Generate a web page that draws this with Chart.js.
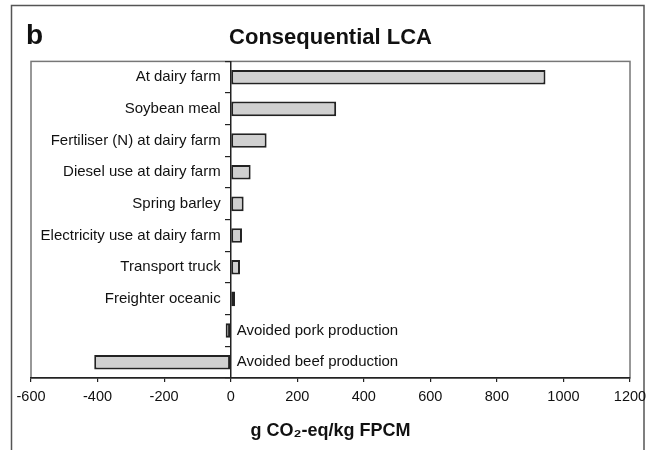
<!DOCTYPE html>
<html>
<head>
<meta charset="utf-8">
<script src="https://cdn.jsdelivr.net/npm/chart.js@4.4.1/dist/chart.umd.min.js"></script>
<style>
  html, body { margin: 0; padding: 0; background: #fff; }
  canvas { display: block; }
</style>
</head>
<body>
<canvas id="lcaChart" width="649" height="450"></canvas>
<script>
const categories = [
  "At dairy farm",
  "Soybean meal",
  "Fertiliser (N) at dairy farm",
  "Diesel use at dairy farm",
  "Spring barley",
  "Electricity use at dairy farm",
  "Transport truck",
  "Freighter oceanic",
  "Avoided pork production",
  "Avoided beef production"
];
const emissions = [946, 317, 108, 60, 39, 34, 28, 13, -15, -410];
const xTicks = [-600, -400, -200, 0, 200, 400, 600, 800, 1000, 1200];

const FONT = "'Liberation Sans', Arial, sans-serif";

// frame, plot box, panel letter and the category names beside the zero line
const decorations = {
  id: "decorations",
  beforeDraw(chart) {
    const { ctx, chartArea: a } = chart;
    ctx.save();
    ctx.fillStyle = "#fff";
    ctx.fillRect(0, 0, chart.width, chart.height);
    ctx.strokeStyle = "#555";
    ctx.lineWidth = 1.5;
    ctx.beginPath();
    ctx.moveTo(11.5, 460);
    ctx.lineTo(11.5, 5.5);
    ctx.lineTo(644, 5.5);
    ctx.lineTo(644, 460);
    ctx.stroke();

    ctx.strokeStyle = "#777";
    ctx.lineWidth = 1.5;
    ctx.strokeRect(a.left, a.top, a.right - a.left, a.bottom - a.top);

    ctx.fillStyle = "#111";
    ctx.font = "bold 28px " + FONT;
    ctx.textAlign = "left";
    ctx.textBaseline = "alphabetic";
    ctx.fillText("b", 26, 44);
    ctx.restore();
  },
  afterDatasetsDraw(chart) {
    const { ctx, scales: { x, y } } = chart;
    const x0 = x.getPixelForValue(0);
    ctx.save();
    ctx.fillStyle = "#111";
    ctx.font = "15px " + FONT;
    ctx.textBaseline = "middle";
    categories.forEach((name, i) => {
      const py = y.getPixelForValue(i);
      if (emissions[i] >= 0) {
        ctx.textAlign = "right";
        ctx.fillText(name, x0 - 10, py);
      } else {
        ctx.textAlign = "left";
        ctx.fillText(name, x0 + 6, py);
      }
    });
    ctx.restore();
  }
};

new Chart(document.getElementById("lcaChart"), {
  type: "bar",
  data: {
    labels: categories,
    datasets: [{
      data: emissions,
      backgroundColor: "#d0d0d0",
      borderColor: "#222",
      borderWidth: 2,
      borderSkipped: false,
      categoryPercentage: 1,
      barPercentage: 0.46
    }]
  },
  options: {
    indexAxis: "y",
    responsive: false,
    animation: false,
    layout: { padding: { top: 25, left: 31, right: 19, bottom: 0 } },
    plugins: {
      legend: { display: false },
      tooltip: { enabled: false },
      title: {
        display: true,
        text: "Consequential LCA",
        color: "#111",
        font: { family: FONT, size: 22, weight: "bold" },
        padding: { top: 0, bottom: 10 }
      }
    },
    scales: {
      x: {
        type: "linear",
        min: -600,
        max: 1200,
        afterBuildTicks: (scale) => { scale.ticks = xTicks.map(v => ({ value: v })); },
        afterFit: (scale) => {
          scale.height = 72;
          scale.paddingLeft = 0;
          scale.paddingRight = 0;
        },
        ticks: {
          color: "#111",
          font: { family: FONT, size: 14.5 },
          padding: 6,
          maxRotation: 0,
          callback: (v) => String(v)
        },
        grid: { drawOnChartArea: false, drawTicks: true, tickLength: 4, color: "#222", lineWidth: 1.2 },
        border: { color: "#222", width: 1.5 },
        title: {
          display: true,
          text: "g CO₂-eq/kg FPCM",
          color: "#111",
          font: { family: FONT, size: 18, weight: "bold" },
          padding: { top: 0, bottom: 8 }
        }
      },
      y: {
        type: "category",
        position: { x: 0 },
        ticks: { display: false },
        grid: { drawOnChartArea: false, drawTicks: true, tickLength: 5, offset: true, color: "#222", lineWidth: 1.2 },
        border: { color: "#222", width: 1.5 }
      }
    }
  },
  plugins: [decorations]
});
</script>
</body>
</html>
